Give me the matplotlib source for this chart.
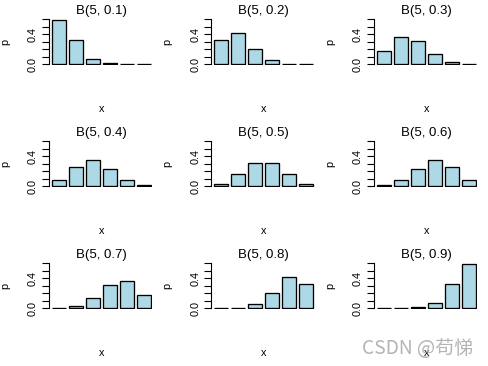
import numpy as np
import matplotlib
matplotlib.use("Agg")
import matplotlib.pyplot as plt

# P(X = k), k = 0..5, for B(5, p)
probs = [0.1, 0.2, 0.3, 0.4, 0.5, 0.6, 0.7, 0.8, 0.9]
pmf = [
    [0.590, 0.328, 0.073, 0.008, 0.000, 0.000],
    [0.328, 0.410, 0.205, 0.051, 0.006, 0.000],
    [0.168, 0.360, 0.309, 0.132, 0.028, 0.002],
    [0.078, 0.259, 0.346, 0.230, 0.077, 0.010],
    [0.031, 0.156, 0.313, 0.313, 0.156, 0.031],
    [0.010, 0.077, 0.230, 0.346, 0.259, 0.078],
    [0.002, 0.028, 0.132, 0.309, 0.360, 0.168],
    [0.000, 0.006, 0.051, 0.205, 0.410, 0.328],
    [0.000, 0.000, 0.008, 0.073, 0.328, 0.590],
]
ytick_vals = [0.0, 0.1, 0.2, 0.3, 0.4, 0.5, 0.6]
ytick_text = ["0.0", "", "", "", "0.4", "", ""]

W, H = 489, 366
fig = plt.figure(figsize=(W / 100, H / 100), dpi=100)
plt.rcParams['font.family'] = ['Liberation Sans', 'DejaVu Sans']

PX = 72 / 100  # points per pixel
col_axis = [49, 211.5, 374]   # pixel x of the y axis line
row_zero = [64, 186, 308]     # pixel y of p = 0
ux = 14.2                      # pixels per bar unit
uy = 74.5                      # pixels per probability unit
xlo, xhi = 0.02, 7.3
ylo, yhi = -0.02, 0.62

def frac(px, py):
    return px / W, 1 - py / H

for i, p in enumerate(probs):
    r, c = divmod(i, 3)
    ax_px = col_axis[c]
    left = ax_px
    bottom = row_zero[r] - ylo * uy
    wpx = (xhi - xlo) * ux
    hpx = (yhi - ylo) * uy
    fx, fy = frac(left, bottom)
    ax = fig.add_axes([fx, fy, wpx / W, hpx / H])

    x = 0.2 + 1.2 * np.arange(6)
    ax.bar(x, pmf[i], width=1.0, align='edge', color='#add8e6',
           edgecolor='black', linewidth=0.95)
    ax.set_xlim(xlo, xhi)
    ax.set_ylim(ylo, yhi)
    for s in ['top', 'right', 'bottom']:
        ax.spines[s].set_visible(False)
    ax.spines['left'].set_bounds(0, 0.6)
    ax.spines['left'].set_linewidth(0.8)
    ax.set_xticks([])
    ax.set_yticks(ytick_vals)
    ax.set_yticklabels(ytick_text, rotation=90, va='center', fontsize=7.8)
    ax.tick_params(axis='y', length=7 * PX, width=0.8, pad=3 * PX * 1.4)

    cx = ax_px + (0.2 + 3.5 - xlo) * ux
    tx, ty = frac(cx, row_zero[r] - 53)
    fig.text(tx, ty, f"B(5, {p})", ha='center', va='center', fontsize=9.5)
    lx, ly = frac(cx, row_zero[r] + 45)
    fig.text(lx, ly, "x", ha='center', va='center', fontsize=7.8)
    px_, py_ = frac(ax_px - 44, row_zero[r] - 22)
    fig.text(px_, py_, "p", ha='center', va='center', rotation=90, fontsize=7.8)

fig.text(418 / W, 1 - 348 / H, "CSDN @苟悌", ha='center', va='center',
         fontsize=13.8, color='#b4b4b4', family=['Noto Sans CJK SC', 'DejaVu Sans'])

fig.savefig("out.png", dpi=100)
